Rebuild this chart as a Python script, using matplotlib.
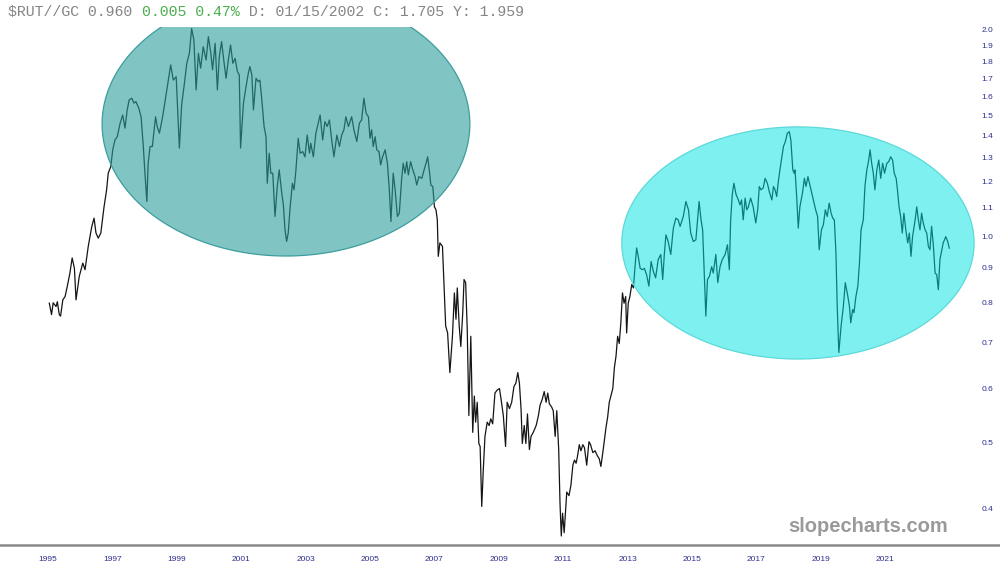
import numpy as np
import matplotlib
matplotlib.use('Agg')
import matplotlib.pyplot as plt
import matplotlib.transforms as mtransforms
from matplotlib.ticker import NullLocator, NullFormatter

# Russell 2000 / gold ratio (fractional years)
years = [
    1995.04, 1995.11, 1995.16, 1995.25, 1995.29, 1995.35, 1995.39, 1995.46, 1995.53, 1995.60,
    1995.68, 1995.75, 1995.82, 1995.87, 1995.97, 1996.08, 1996.15, 1996.25, 1996.36, 1996.43,
    1996.49, 1996.56, 1996.64, 1996.74, 1996.82, 1996.87, 1996.95, 1997.01, 1997.08, 1997.15,
    1997.24, 1997.32, 1997.39, 1997.46, 1997.52, 1997.60, 1997.67, 1997.73, 1997.82, 1997.89,
    1997.96, 1998.01, 1998.07, 1998.11, 1998.17, 1998.24, 1998.34, 1998.39, 1998.46, 1998.56,
    1998.69, 1998.81, 1998.89, 1998.98, 1999.08, 1999.15, 1999.23, 1999.31, 1999.39, 1999.46,
    1999.53, 1999.60, 1999.67, 1999.74, 1999.82, 1999.91, 1999.98, 2000.05, 2000.11, 2000.19,
    2000.26, 2000.32, 2000.39, 2000.47, 2000.53, 2000.60, 2000.67, 2000.74, 2000.81, 2000.88,
    2000.94, 2000.98, 2001.07, 2001.15, 2001.22, 2001.27, 2001.33, 2001.38, 2001.46, 2001.53,
    2001.58, 2001.64, 2001.71, 2001.77, 2001.81, 2001.87, 2001.92, 2001.98, 2002.05, 2002.12,
    2002.18, 2002.26, 2002.31, 2002.36, 2002.41, 2002.46, 2002.52, 2002.59, 2002.64, 2002.70,
    2002.77, 2002.83, 2002.91, 2002.98, 2003.05, 2003.12, 2003.16, 2003.24, 2003.32, 2003.39,
    2003.45, 2003.53, 2003.60, 2003.67, 2003.74, 2003.81, 2003.88, 2003.97, 2004.05, 2004.12,
    2004.19, 2004.25, 2004.33, 2004.43, 2004.50, 2004.59, 2004.67, 2004.74, 2004.81, 2004.88,
    2004.95, 2005.00, 2005.05, 2005.10, 2005.16, 2005.21, 2005.28, 2005.33, 2005.39, 2005.47,
    2005.54, 2005.60, 2005.65, 2005.72, 2005.78, 2005.85, 2005.91, 2005.98, 2006.03, 2006.09,
    2006.14, 2006.19, 2006.26, 2006.33, 2006.40, 2006.45, 2006.52, 2006.61, 2006.68, 2006.74,
    2006.79, 2006.84, 2006.89, 2006.95, 2007.00, 2007.05, 2007.09, 2007.12, 2007.17, 2007.25,
    2007.30, 2007.35, 2007.41, 2007.48, 2007.56, 2007.62, 2007.67, 2007.71, 2007.77, 2007.82,
    2007.88, 2007.92, 2007.97, 2008.02, 2008.07, 2008.13, 2008.19, 2008.24, 2008.28, 2008.33,
    2008.38, 2008.42, 2008.47, 2008.52, 2008.57, 2008.64, 2008.70, 2008.75, 2008.81, 2008.88,
    2008.95, 2009.02, 2009.07, 2009.14, 2009.21, 2009.26, 2009.33, 2009.40, 2009.47, 2009.53,
    2009.59, 2009.64, 2009.69, 2009.73, 2009.79, 2009.84, 2009.89, 2009.95, 2010.00, 2010.07,
    2010.16, 2010.23, 2010.28, 2010.35, 2010.41, 2010.47, 2010.52, 2010.57, 2010.64, 2010.69,
    2010.75, 2010.80, 2010.86, 2010.90, 2010.94, 2010.98, 2011.03, 2011.11, 2011.18, 2011.24,
    2011.30, 2011.35, 2011.40, 2011.44, 2011.50, 2011.55, 2011.61, 2011.66, 2011.73, 2011.80,
    2011.85, 2011.92, 2011.99, 2012.06, 2012.12, 2012.17, 2012.23, 2012.28, 2012.33, 2012.38,
    2012.43, 2012.48, 2012.54, 2012.59, 2012.64, 2012.69, 2012.74, 2012.79, 2012.84, 2012.89,
    2012.94, 2012.97, 2013.02, 2013.07, 2013.13, 2013.18, 2013.23, 2013.28, 2013.33, 2013.39,
    2013.46, 2013.52, 2013.59, 2013.66, 2013.73, 2013.80, 2013.87, 2013.95, 2014.03, 2014.09,
    2014.14, 2014.19, 2014.26, 2014.34, 2014.42, 2014.50, 2014.57, 2014.63, 2014.73, 2014.81,
    2014.89, 2014.96, 2015.04, 2015.12, 2015.22, 2015.28, 2015.33, 2015.37, 2015.43, 2015.48,
    2015.54, 2015.61, 2015.66, 2015.74, 2015.80, 2015.87, 2015.94, 2016.03, 2016.10, 2016.16,
    2016.20, 2016.25, 2016.30, 2016.37, 2016.44, 2016.49, 2016.54, 2016.59, 2016.65, 2016.70,
    2016.75, 2016.82, 2016.90, 2016.98, 2017.04, 2017.09, 2017.14, 2017.21, 2017.27, 2017.34,
    2017.40, 2017.48, 2017.53, 2017.58, 2017.63, 2017.68, 2017.73, 2017.79, 2017.84, 2017.90,
    2017.96, 2018.02, 2018.07, 2018.13, 2018.17, 2018.20, 2018.25, 2018.30, 2018.35, 2018.43,
    2018.49, 2018.54, 2018.60, 2018.66, 2018.73, 2018.79, 2018.84, 2018.90, 2018.95, 2019.02,
    2019.08, 2019.14, 2019.20, 2019.26, 2019.32, 2019.37, 2019.42, 2019.47, 2019.51, 2019.56,
    2019.63, 2019.70, 2019.76, 2019.84, 2019.89, 2019.93, 2019.99, 2020.03, 2020.09, 2020.15,
    2020.20, 2020.25, 2020.32, 2020.37, 2020.43, 2020.48, 2020.53, 2020.58, 2020.63, 2020.68,
    2020.74, 2020.80, 2020.86, 2020.92, 2020.98, 2021.05, 2021.11, 2021.17, 2021.23, 2021.28,
    2021.34, 2021.38, 2021.43, 2021.48, 2021.53, 2021.58, 2021.64, 2021.70, 2021.75, 2021.80,
    2021.85, 2021.93, 2021.98, 2022.03, 2022.08, 2022.13, 2022.18, 2022.24, 2022.29, 2022.34,
    2022.39, 2022.44, 2022.49, 2022.55, 2022.60, 2022.65, 2022.70, 2022.75, 2022.80, 2022.88,
    2022.94, 2022.99]

ratio = [
    0.798, 0.768, 0.799, 0.789, 0.802, 0.768, 0.764, 0.807, 0.816, 0.845,
    0.883, 0.929, 0.897, 0.807, 0.873, 0.913, 0.893, 0.966, 1.033, 1.062,
    1.010, 0.993, 1.010, 1.103, 1.168, 1.235, 1.263, 1.336, 1.381, 1.396,
    1.461, 1.502, 1.437, 1.528, 1.580, 1.589, 1.563, 1.571, 1.536, 1.493,
    1.351, 1.235, 1.123, 1.277, 1.351, 1.351, 1.493, 1.445, 1.413, 1.493,
    1.634, 1.777, 1.689, 1.708, 1.344, 1.554, 1.662, 1.787, 1.848, 2.008,
    1.933, 1.634, 1.848, 1.758, 1.889, 1.807, 1.954, 1.858, 1.748, 1.911,
    1.634, 1.827, 1.922, 1.787, 1.699, 1.807, 1.900, 1.787, 1.817, 1.738,
    1.718, 1.344, 1.563, 1.652, 1.728, 1.767, 1.718, 1.528, 1.699, 1.680,
    1.689, 1.580, 1.445, 1.396, 1.194, 1.321, 1.235, 1.235, 1.068, 1.181,
    1.249, 1.155, 1.110, 1.021, 0.982, 1.010, 1.103, 1.194, 1.168, 1.249,
    1.389, 1.321, 1.328, 1.305, 1.404, 1.321, 1.366, 1.305, 1.413, 1.461,
    1.502, 1.381, 1.469, 1.445, 1.477, 1.381, 1.305, 1.404, 1.351, 1.404,
    1.429, 1.493, 1.445, 1.493, 1.429, 1.374, 1.461, 1.477, 1.589, 1.510,
    1.493, 1.389, 1.429, 1.351, 1.396, 1.336, 1.328, 1.270, 1.305, 1.336,
    1.277, 1.168, 1.050, 1.235, 1.168, 1.068, 1.080, 1.207, 1.277, 1.235,
    1.284, 1.228, 1.284, 1.249, 1.221, 1.187, 1.221, 1.214, 1.249, 1.277,
    1.305, 1.249, 1.187, 1.181, 1.103, 1.092, 1.056, 0.934, 0.977, 0.966,
    0.845, 0.739, 0.722, 0.632, 0.714, 0.826, 0.756, 0.840, 0.739, 0.690,
    0.773, 0.864, 0.855, 0.730, 0.547, 0.714, 0.517, 0.584, 0.535, 0.572,
    0.498, 0.493, 0.403, 0.458, 0.510, 0.535, 0.529, 0.541, 0.532, 0.590,
    0.596, 0.599, 0.578, 0.547, 0.493, 0.572, 0.560, 0.572, 0.603, 0.610,
    0.632, 0.610, 0.560, 0.498, 0.529, 0.498, 0.550, 0.488, 0.510, 0.517,
    0.529, 0.547, 0.566, 0.578, 0.593, 0.572, 0.590, 0.569, 0.563, 0.556,
    0.510, 0.556, 0.488, 0.408, 0.365, 0.394, 0.369, 0.423, 0.418, 0.433,
    0.463, 0.471, 0.466, 0.476, 0.496, 0.486, 0.496, 0.491, 0.463, 0.501,
    0.496, 0.483, 0.486, 0.478, 0.473, 0.461, 0.483, 0.504, 0.526, 0.544,
    0.572, 0.584, 0.599, 0.643, 0.668, 0.714, 0.697, 0.747, 0.826, 0.798,
    0.816, 0.722, 0.798, 0.816, 0.850, 0.840, 0.902, 0.961, 0.934, 0.897,
    0.893, 0.897, 0.878, 0.845, 0.918, 0.888, 0.869, 0.924, 0.940, 0.864,
    0.940, 1.004, 0.982, 0.940, 1.027, 1.062, 1.056, 1.033, 1.068, 1.123,
    1.092, 1.010, 0.982, 0.987, 1.123, 1.056, 1.021, 0.908, 0.764, 0.864,
    0.873, 0.902, 0.883, 0.940, 0.855, 0.902, 0.924, 0.940, 0.971, 0.893,
    1.056, 1.149, 1.194, 1.149, 1.129, 1.110, 1.129, 1.056, 1.136, 1.092,
    1.103, 1.136, 1.103, 1.045, 1.092, 1.181, 1.168, 1.175, 1.214, 1.194,
    1.161, 1.129, 1.181, 1.168, 1.142, 1.200, 1.249, 1.305, 1.351, 1.374,
    1.413, 1.420, 1.381, 1.249, 1.235, 1.249, 1.142, 1.027, 1.103, 1.155,
    1.214, 1.181, 1.221, 1.187, 1.149, 1.117, 1.092, 1.068, 0.955, 1.021,
    1.039, 1.092, 1.068, 1.117, 1.080, 1.062, 1.056, 0.945, 0.789, 0.676,
    0.739, 0.789, 0.855, 0.816, 0.789, 0.747, 0.781, 0.773, 0.816, 0.845,
    0.913, 1.021, 1.056, 1.181, 1.249, 1.284, 1.336, 1.277, 1.235, 1.168,
    1.249, 1.291, 1.214, 1.277, 1.235, 1.277, 1.284, 1.305, 1.291, 1.235,
    1.214, 1.168, 1.103, 1.068, 1.010, 1.080, 1.021, 0.977, 1.010, 0.934,
    0.998, 1.056, 1.103, 1.056, 1.021, 1.080, 1.045, 1.021, 1.010, 0.966,
    0.955, 1.033, 0.977, 0.883, 0.878, 0.835, 0.924, 0.950, 0.977, 0.998,
    0.982, 0.960]

xtick_years = [1995, 1997, 1999, 2001, 2003, 2005, 2007, 2009, 2011, 2013,
               2015, 2017, 2019, 2021]
ytick_values = [0.4, 0.5, 0.6, 0.7, 0.8, 0.9, 1.0, 1.1, 1.2, 1.3, 1.4, 1.5,
                1.6, 1.7, 1.8, 1.9, 2.0]

# shaded zones: centre year, centre ratio, half width (years), half height (log units)
top_zone = (2002.39, 1.457, 5.71, 0.4435)
recent_zone = (2018.29, 0.977, 5.47, 0.390)

header = '$RUT//GC 0.960 '
change = '0.005 0.47%'
details = ' D: 01/15/2002 C: 1.705 Y: 1.959'

navy = '#2e2e8f'


def zone_outline(cx, cy, rx, ry):
    t = np.linspace(0, 2 * np.pi, 300)
    return cx + rx * np.cos(t), cy * np.exp(ry * np.sin(t))


fig = plt.figure(figsize=(10, 5.81), dpi=100)
ax = fig.add_axes([0, 0.062, 1, 0.8915])

ax.plot(years, ratio, color='#151515', lw=0.9, zorder=2)

xs, ys = zone_outline(*top_zone)
ax.fill(xs, ys, facecolor=(0.17, 0.62, 0.62, 0.6), edgecolor='#3d9d9d',
        lw=0.9, zorder=3)
xs, ys = zone_outline(*recent_zone)
ax.fill(xs, ys, facecolor=(0.0, 0.89, 0.89, 0.5), edgecolor='#5cd9d9',
        lw=0.9, zorder=3)

ax.set_yscale('log')
ax.set_xlim(1993.509, 2024.565)
ax.set_ylim(0.3541, 2.0185)

ax.yaxis.set_minor_locator(NullLocator())
ax.yaxis.set_minor_formatter(NullFormatter())
ax.set_yticks(ytick_values)
ax.set_yticklabels([f'{v:.1f}' for v in ytick_values])
ax.yaxis.tick_right()
ax.tick_params(axis='y', length=0, pad=-5, labelsize=6, labelcolor=navy)
for lbl in ax.get_yticklabels():
    lbl.set_horizontalalignment('right')
    lbl.set_family('Liberation Sans')

ax.set_xticks(xtick_years)
ax.set_xticklabels([str(y) for y in xtick_years])
ax.tick_params(axis='x', length=0, pad=8, labelsize=6, labelcolor=navy)
for lbl in ax.get_xticklabels():
    lbl.set_family('Liberation Sans')

for side in ['top', 'left', 'right']:
    ax.spines[side].set_visible(False)
ax.spines['bottom'].set_color('#8a8a8a')
ax.spines['bottom'].set_linewidth(1.8)
ax.set_facecolor('white')

# ticker line across the top, monospace, pieces placed side by side
fsize = 10.7
char_pt = 0.6 * fsize
tx, ty = 0.008, 0.979
fig.text(tx, ty, header, family='Liberation Mono', fontsize=fsize,
         color='#858585', va='center')
fig.text(tx, ty, change, family='Liberation Mono', fontsize=fsize,
         color='#4caf50', va='center',
         transform=mtransforms.offset_copy(fig.transFigure, fig=fig,
                                           x=len(header) * char_pt, y=0, units='points'))
fig.text(tx, ty, details, family='Liberation Mono', fontsize=fsize,
         color='#858585', va='center',
         transform=mtransforms.offset_copy(fig.transFigure, fig=fig,
                                           x=(len(header) + len(change)) * char_pt, y=0,
                                           units='points'))

fig.text(0.948, 0.093, 'slopecharts.com', family='Liberation Sans',
         fontweight='bold', fontsize=14.5, color='#9a9a9a', ha='right', va='center')

fig.savefig('out.png', dpi=100, facecolor='white')
